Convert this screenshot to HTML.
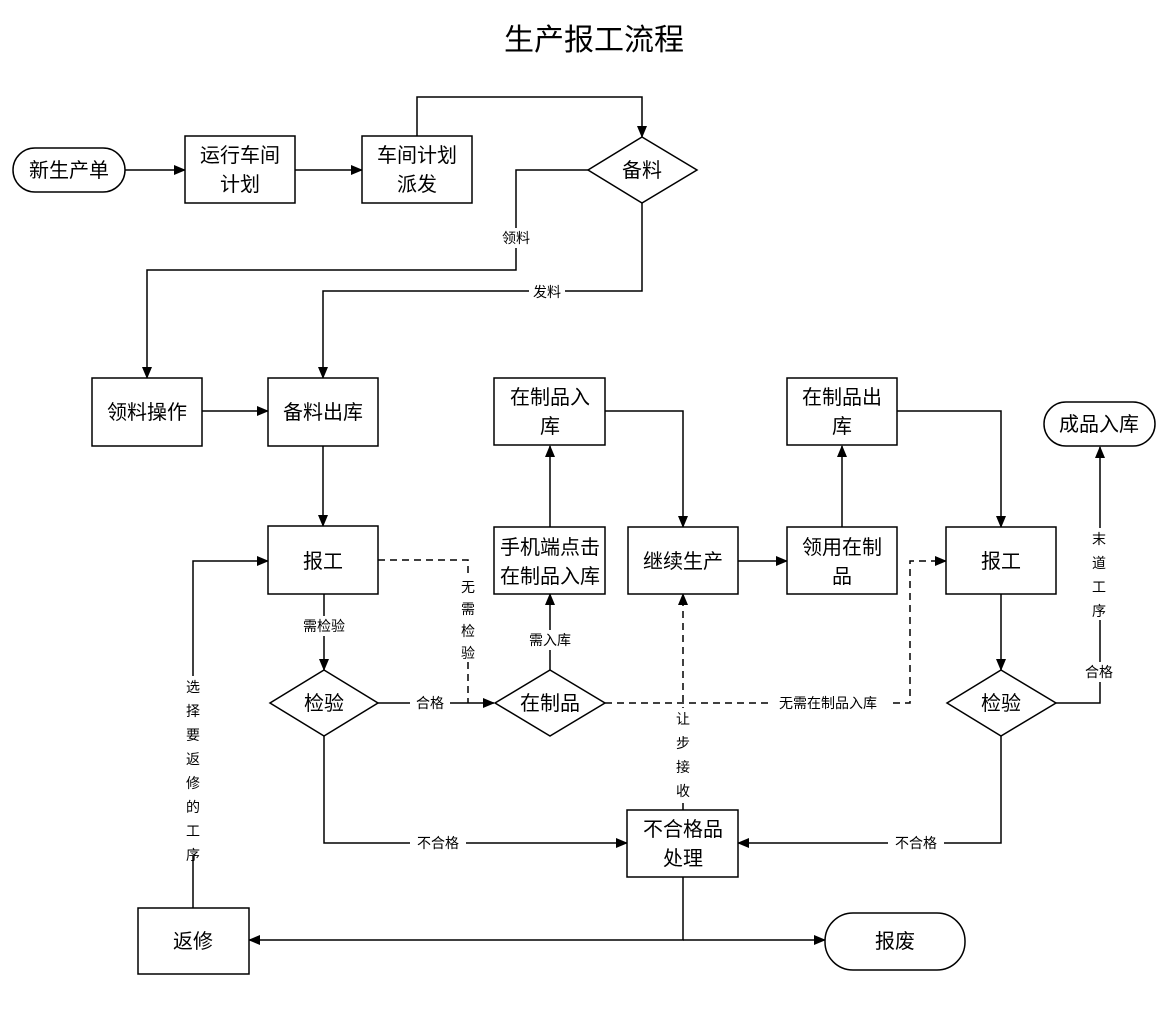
<!DOCTYPE html>
<html><head><meta charset="utf-8"><style>
html,body{margin:0;padding:0;background:#fff;}
svg{display:block;}
text{font-family:"Liberation Sans","Noto Sans CJK SC","WenQuanYi Zen Hei",sans-serif;fill:#000;}
.n{font-size:20px;text-anchor:middle;}
.l{font-size:14px;text-anchor:middle;}
.s{fill:#fff;stroke:#000;stroke-width:1.5;}
.c{fill:none;stroke:#000;stroke-width:1.5;}
.d{fill:none;stroke:#000;stroke-width:1.5;stroke-dasharray:7,5;}
.bg{fill:#fff;stroke:none;}
</style></head><body>
<svg width="1168" height="1018" viewBox="0 0 1168 1018">
<defs><marker id="a" markerWidth="12" markerHeight="10" refX="11" refY="5" orient="auto" markerUnits="userSpaceOnUse"><path d="M0,0 L12,5 L0,10 z" fill="#000"/></marker></defs>
<text x="594" y="50" style="font-size:30px;text-anchor:middle">生产报工流程</text>

<!-- connectors -->
<path class="c" d="M125,170 H185" marker-end="url(#a)"/>
<path class="c" d="M295,170 H362" marker-end="url(#a)"/>
<path class="c" d="M417,136 V97 H642 V137" marker-end="url(#a)"/>
<path class="c" d="M588,170 H516 V270 H147 V378" marker-end="url(#a)"/>
<path class="c" d="M642,203 V291 H323 V378" marker-end="url(#a)"/>
<path class="c" d="M202,411 H268" marker-end="url(#a)"/>
<path class="c" d="M323,446 V526" marker-end="url(#a)"/>
<path class="c" d="M324,594 V670" marker-end="url(#a)"/>
<path class="c" d="M378,703 H494" marker-end="url(#a)"/>
<path class="d" d="M378,560 H468 V703"/>
<path class="c" d="M324,736 V843 H627" marker-end="url(#a)"/>
<path class="c" d="M550,670 V594" marker-end="url(#a)"/>
<path class="c" d="M550,527 V446" marker-end="url(#a)"/>
<path class="c" d="M605,411 H683 V527" marker-end="url(#a)"/>
<path class="c" d="M738,561 H787" marker-end="url(#a)"/>
<path class="c" d="M842,527 V446" marker-end="url(#a)"/>
<path class="c" d="M897,411 H1001 V527" marker-end="url(#a)"/>
<path class="d" d="M605,703 H910 V561 H946" marker-end="url(#a)"/>
<path class="d" d="M683,810 V594" marker-end="url(#a)"/>
<path class="c" d="M1001,594 V670" marker-end="url(#a)"/>
<path class="c" d="M1056,703 H1100 V447" marker-end="url(#a)"/>
<path class="c" d="M1001,736 V843 H738" marker-end="url(#a)"/>
<path class="c" d="M683,877 V940 H249" marker-end="url(#a)"/>
<path class="c" d="M683,940 H825" marker-end="url(#a)"/>
<path class="c" d="M193,908 V561 H268" marker-end="url(#a)"/>

<!-- labels with white bg -->
<rect class="bg" x="498" y="228" width="36" height="20"/><text class="l" x="516" y="243">领料</text>
<rect class="bg" x="529" y="282" width="36" height="20"/><text class="l" x="547" y="297">发料</text>
<rect class="bg" x="298" y="616" width="52" height="20"/><text class="l" x="324" y="631">需检验</text>
<rect class="bg" x="410" y="693" width="40" height="20"/><text class="l" x="430" y="708">合格</text>
<rect class="bg" x="458" y="576" width="20" height="86"/>
<text class="l" x="468" y="592">无</text><text class="l" x="468" y="614">需</text><text class="l" x="468" y="636">检</text><text class="l" x="468" y="658">验</text>
<rect class="bg" x="524" y="630" width="52" height="20"/><text class="l" x="550" y="645">需入库</text>
<rect class="bg" x="768" y="693" width="120" height="20"/><text class="l" x="828" y="708">无需在制品入库</text>
<rect class="bg" x="673" y="708" width="20" height="92"/>
<text class="l" x="683" y="724">让</text><text class="l" x="683" y="748">步</text><text class="l" x="683" y="772">接</text><text class="l" x="683" y="796">收</text>
<rect class="bg" x="410" y="833" width="56" height="20"/><text class="l" x="438" y="848">不合格</text>
<rect class="bg" x="888" y="833" width="56" height="20"/><text class="l" x="916" y="848">不合格</text>
<rect class="bg" x="1080" y="662" width="40" height="20"/><text class="l" x="1099" y="677">合格</text>
<rect class="bg" x="1090" y="528" width="20" height="92"/>
<text class="l" x="1099" y="544">末</text><text class="l" x="1099" y="568">道</text><text class="l" x="1099" y="592">工</text><text class="l" x="1099" y="616">序</text>
<rect class="bg" x="183" y="676" width="20" height="180"/>
<text class="l" x="193" y="692">选</text><text class="l" x="193" y="716">择</text><text class="l" x="193" y="740">要</text><text class="l" x="193" y="764">返</text><text class="l" x="193" y="788">修</text><text class="l" x="193" y="812">的</text><text class="l" x="193" y="836">工</text><text class="l" x="193" y="860">序</text>

<!-- nodes -->
<rect class="s" x="13" y="148" width="112" height="44" rx="22"/><text class="n" x="69" y="177">新生产单</text>
<rect class="s" x="185" y="136" width="110" height="67"/><text class="n" x="240" y="162">运行车间</text><text class="n" x="240" y="191">计划</text>
<rect class="s" x="362" y="136" width="110" height="67"/><text class="n" x="417" y="162">车间计划</text><text class="n" x="417" y="191">派发</text>
<polygon class="s" points="642,137 697,170 642,203 588,170"/><text class="n" x="642" y="177">备料</text>
<rect class="s" x="92" y="378" width="110" height="68"/><text class="n" x="147" y="419">领料操作</text>
<rect class="s" x="268" y="378" width="110" height="68"/><text class="n" x="323" y="419">备料出库</text>
<rect class="s" x="268" y="526" width="110" height="68"/><text class="n" x="323" y="568">报工</text>
<polygon class="s" points="324,670 378,703 324,736 270,703"/><text class="n" x="324" y="710">检验</text>
<polygon class="s" points="550,670 605,703 550,736 495,703"/><text class="n" x="550" y="710">在制品</text>
<rect class="s" x="494" y="527" width="111" height="67"/><text class="n" x="550" y="554">手机端点击</text><text class="n" x="550" y="583">在制品入库</text>
<rect class="s" x="494" y="378" width="111" height="67"/><text class="n" x="550" y="404">在制品入</text><text class="n" x="550" y="433">库</text>
<rect class="s" x="628" y="527" width="110" height="67"/><text class="n" x="683" y="568">继续生产</text>
<rect class="s" x="787" y="527" width="110" height="67"/><text class="n" x="842" y="554">领用在制</text><text class="n" x="842" y="583">品</text>
<rect class="s" x="787" y="378" width="110" height="67"/><text class="n" x="842" y="404">在制品出</text><text class="n" x="842" y="433">库</text>
<rect class="s" x="946" y="527" width="110" height="67"/><text class="n" x="1001" y="568">报工</text>
<polygon class="s" points="1001,670 1056,703 1001,736 947,703"/><text class="n" x="1001" y="710">检验</text>
<rect class="s" x="1044" y="402" width="111" height="44" rx="22"/><text class="n" x="1099" y="431">成品入库</text>
<rect class="s" x="627" y="810" width="111" height="67"/><text class="n" x="683" y="836">不合格品</text><text class="n" x="683" y="865">处理</text>
<rect class="s" x="138" y="908" width="111" height="66"/><text class="n" x="193" y="948">返修</text>
<rect class="s" x="825" y="913" width="140" height="57" rx="28"/><text class="n" x="895" y="948">报废</text>
</svg>
</body></html>
